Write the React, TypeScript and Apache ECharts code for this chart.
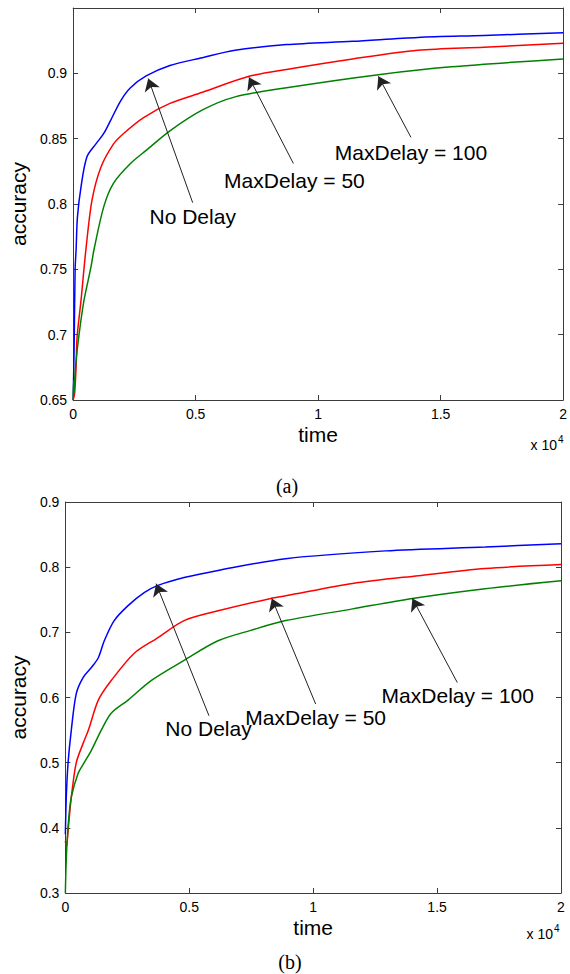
import React, { useEffect, useRef } from 'react';
import * as echarts from 'echarts';

// ---------- data (time in raw units, accuracy) ----------
const topBlueX = [0, 40, 80, 120, 175, 320, 560, 930, 1250, 1530, 1940, 2340, 2980, 3950, 5280, 6610, 8710, 11410, 14070, 16770, 20000];
const topBlueY = [0.65, 0.69, 0.75, 0.765, 0.79, 0.813, 0.836, 0.846, 0.854, 0.864, 0.879, 0.889, 0.898, 0.906, 0.912, 0.9176, 0.922, 0.9245, 0.9275, 0.929, 0.931];

const topRedX = [0, 60, 120, 160, 320, 520, 770, 1130, 1650, 2060, 2860, 3950, 5280, 7180, 8710, 11410, 14070, 16770, 20000];
const topRedY = [0.65, 0.655, 0.675, 0.698, 0.726, 0.765, 0.803, 0.828, 0.846, 0.854, 0.866, 0.877, 0.8855, 0.8977, 0.903, 0.911, 0.9176, 0.92, 0.923];

const topGreenX = [0, 20, 40, 60, 120, 240, 440, 730, 850, 1250, 1650, 2340, 2980, 3950, 5280, 6610, 8710, 12460, 15440, 20000];
const topGreenY = [0.65, 0.665, 0.655, 0.665, 0.68, 0.7, 0.726, 0.752, 0.765, 0.798, 0.816, 0.831, 0.841, 0.856, 0.872, 0.882, 0.889, 0.899, 0.905, 0.911];

const botBlueX = [0, 40, 110, 240, 440, 720, 1050, 1330, 1570, 1970, 2530, 3180, 3740, 4790, 6160, 8890, 12920, 16940, 20000];
const botBlueY = [0.39, 0.45, 0.5, 0.55, 0.606, 0.631, 0.646, 0.661, 0.687, 0.718, 0.741, 0.761, 0.772, 0.784, 0.795, 0.813, 0.825, 0.831, 0.836];

const botRedX = [0, 40, 120, 240, 440, 720, 930, 1330, 1850, 2780, 3740, 4790, 6160, 8290, 8890, 11590, 14250, 16940, 20000];
const botRedY = [0.38, 0.37, 0.4, 0.447, 0.5, 0.53, 0.55, 0.596, 0.626, 0.668, 0.692, 0.718, 0.733, 0.752, 0.756, 0.775, 0.787, 0.798, 0.804];

const botGreenX = [0, 40, 120, 240, 520, 760, 1050, 1450, 1850, 2530, 3460, 4790, 6160, 7480, 8890, 11590, 14000, 16940, 20000];
const botGreenY = [0.3, 0.355, 0.407, 0.447, 0.484, 0.5, 0.519, 0.55, 0.576, 0.596, 0.626, 0.657, 0.687, 0.703, 0.718, 0.736, 0.752, 0.767, 0.779];

// annotations: label text, label position, arrow tail, arrow tip
const topLabels = ['No Delay', 'MaxDelay = 50', 'MaxDelay = 100'];
const topLabelPos = [[4880, 0.7907], [9032, 0.818], [13790, 0.8396]];
const topArrowTail = [[4880, 0.801], [8990, 0.831], [13790, 0.851]];
const topArrowTip = [[3065, 0.896], [7177, 0.897], [12460, 0.8977]];

const botLabels = ['No Delay', 'MaxDelay = 50', 'MaxDelay = 100'];
const botLabelPos = [[5775, 0.552], [10100, 0.57], [15835, 0.603]];
const botArrowTail = [[5795, 0.572], [10100, 0.59], [15815, 0.623]];
const botArrowTip = [[3662, 0.7747], [8330, 0.752], [14004, 0.752]];

const xTickValues = [0, 5000, 10000, 15000, 20000];

// ---------- helpers ----------
const SANS = '"Liberation Sans", Arial, Helvetica, sans-serif';
const SERIF = '"Liberation Serif", "Times New Roman", serif';
const AXIS = '#3c3c3c';
const TEXT = '#000';

const pairs = (xs: number[], ys: number[]) => xs.map((x, i) => [x, ys[i]]);
const fmtNum = (v: number) => String(parseFloat(v.toFixed(2)));

function xAxes(gridIndex: number) {
  const base = {
    type: 'value', gridIndex, min: xTickValues[0], max: xTickValues[xTickValues.length - 1],
    interval: xTickValues[1] - xTickValues[0], splitLine: { show: false },
    axisLine: { show: true, onZero: false, lineStyle: { color: AXIS, width: 1 } },
    axisTick: { show: true, inside: true, length: 5, lineStyle: { color: AXIS } },
  };
  return [
    {
      ...base, position: 'bottom',
      axisLabel: { formatter: (v: number) => fmtNum(v / 10000), fontSize: 14, color: TEXT, fontFamily: SANS, margin: 7 },
      name: 'time', nameLocation: 'middle', nameGap: 24,
      nameTextStyle: { fontSize: 21, color: TEXT, fontFamily: SANS },
    },
    { ...base, position: 'top', axisLabel: { show: false } },
  ];
}

function yAxes(gridIndex: number, min: number, max: number, interval: number, nameGap: number, hideTop: boolean) {
  const base = {
    type: 'value', gridIndex, min, max, interval, splitLine: { show: false },
    axisLine: { show: true, onZero: false, lineStyle: { color: AXIS, width: 1 } },
    axisTick: { show: true, inside: true, length: 5, lineStyle: { color: AXIS } },
  };
  return [
    {
      ...base, position: 'left',
      axisLabel: {
        formatter: (v: number) => (hideTop && v > max - interval / 2 ? '' : fmtNum(v)),
        fontSize: 14, color: TEXT, fontFamily: SANS, margin: 6,
      },
      name: 'accuracy', nameLocation: 'middle', nameRotate: 90, nameGap,
      nameTextStyle: { fontSize: 21, color: TEXT, fontFamily: SANS },
    },
    { ...base, position: 'right', axisLabel: { show: false } },
  ];
}

function curve(data: number[][], color: string, axisIdx: number) {
  return {
    type: 'line', data, xAxisIndex: axisIdx, yAxisIndex: axisIdx,
    showSymbol: false, symbol: 'none', smooth: 0.3,
    lineStyle: { color, width: 1.5 }, silent: true,
  };
}

function annotations(labels: string[], pos: number[][], tails: number[][], tips: number[][], axisIdx: number) {
  return {
    type: 'scatter', xAxisIndex: axisIdx, yAxisIndex: axisIdx, symbolSize: 0, silent: true,
    itemStyle: { color: '#000', opacity: 1 },
    data: labels.map((name, i) => ({ name, value: pos[i] })),
    label: {
      show: true, position: 'inside', formatter: '{b}', fontSize: 21, color: TEXT, fontFamily: SANS,
      opacity: 1, textBorderWidth: 0,
    },
    markLine: {
      silent: true, symbol: ['none', 'arrow'], symbolSize: 12, animation: false,
      label: { show: false },
      lineStyle: { color: '#222', width: 1, type: 'solid', opacity: 1 },
      data: tails.map((t, i) => [{ coord: t }, { coord: tips[i] }]),
    },
  };
}

export default function App() {
  const ref = useRef<HTMLDivElement>(null);
  useEffect(() => {
    if (!ref.current) return;
    const chart = echarts.init(ref.current, undefined, { renderer: 'svg' });
    chart.setOption({
      animation: false,
      backgroundColor: '#ffffff',
      grid: [
        { left: 69, top: 8, width: 496, height: 392 },
        { left: 64, top: 502, width: 497, height: 391 },
      ],
      xAxis: [...xAxes(0), ...xAxes(1)],
      yAxis: [...yAxes(0, 0.65, 0.95, 0.05, 41, true), ...yAxes(1, 0.3, 0.9, 0.1, 32, false)],
      series: [
        curve(pairs(topBlueX, topBlueY), '#0000ff', 0),
        curve(pairs(topRedX, topRedY), '#ff0000', 0),
        curve(pairs(topGreenX, topGreenY), '#008000', 0),
        annotations(topLabels, topLabelPos, topArrowTail, topArrowTip, 0),
        curve(pairs(botBlueX, botBlueY), '#0000ff', 2),
        curve(pairs(botRedX, botRedY), '#ff0000', 2),
        curve(pairs(botGreenX, botGreenY), '#008000', 2),
        annotations(botLabels, botLabelPos, botArrowTail, botArrowTip, 2),
      ],
      graphic: [
        { type: 'text', x: 557, y: 445, style: { text: 'x 10', fontSize: 14, fill: TEXT, fontFamily: SANS, align: 'right', verticalAlign: 'middle' } },
        { type: 'text', x: 558, y: 439, style: { text: '4', fontSize: 10, fill: TEXT, fontFamily: SANS, align: 'left', verticalAlign: 'middle' } },
        { type: 'text', x: 553, y: 934, style: { text: 'x 10', fontSize: 14, fill: TEXT, fontFamily: SANS, align: 'right', verticalAlign: 'middle' } },
        { type: 'text', x: 554, y: 928, style: { text: '4', fontSize: 10, fill: TEXT, fontFamily: SANS, align: 'left', verticalAlign: 'middle' } },
        { type: 'text', x: 287, y: 486, style: { text: '(a)', fontSize: 20, fill: TEXT, fontFamily: SERIF, align: 'center', verticalAlign: 'middle' } },
        { type: 'text', x: 290, y: 962, style: { text: '(b)', fontSize: 20, fill: TEXT, fontFamily: SERIF, align: 'center', verticalAlign: 'middle' } },
      ],
    });
    return () => chart.dispose();
  }, []);
  return <div ref={ref} style={{ position: 'fixed', left: 0, top: 0, width: 570, height: 974, background: '#fff' }} />;
}
